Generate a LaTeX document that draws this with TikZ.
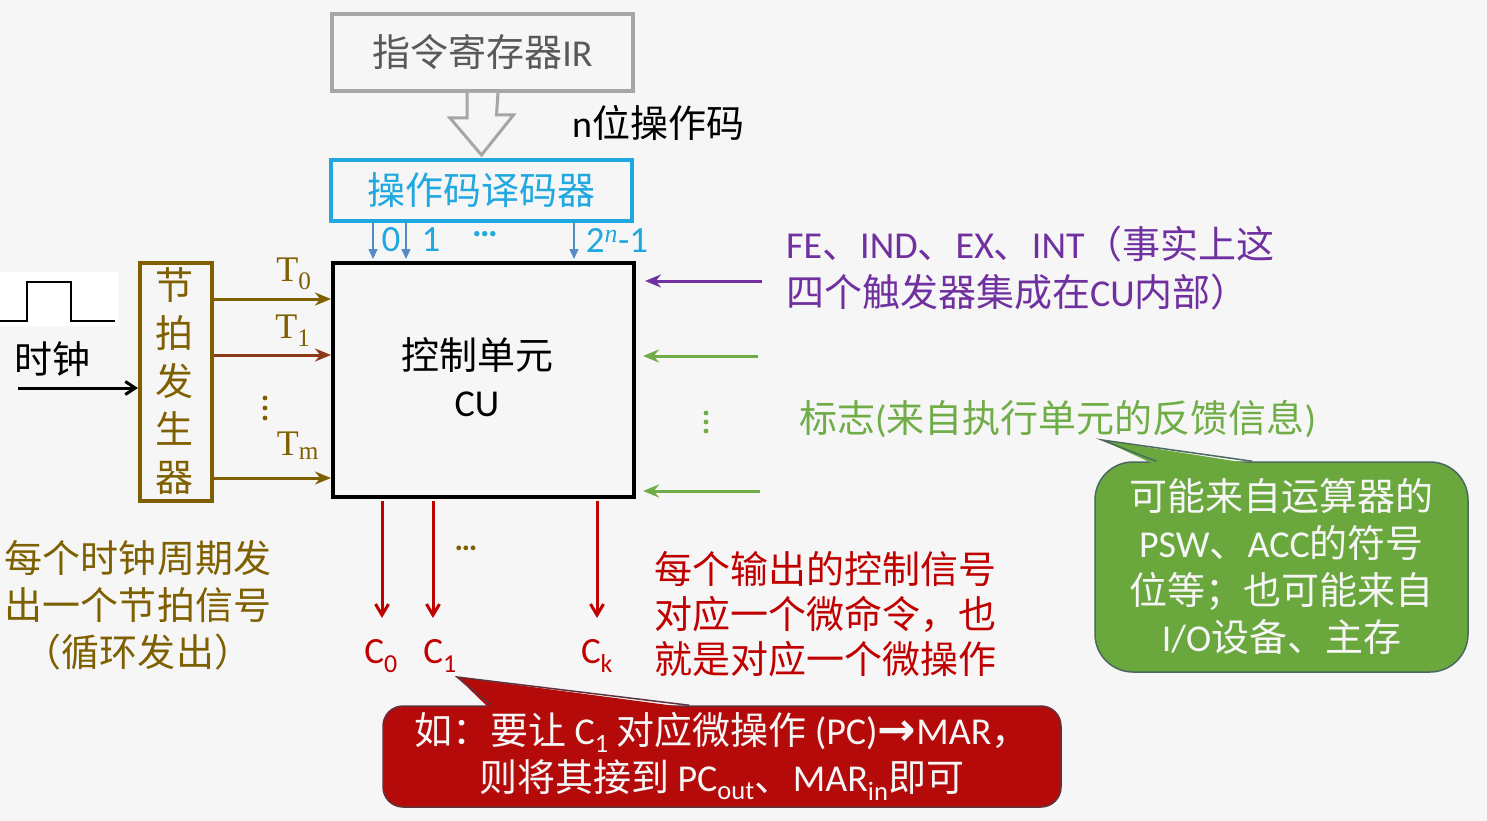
\documentclass[tikz,border=0pt]{standalone}
\usepackage{fontspec}
\setmainfont{Carlito}
\newfontfamily\cjk{Noto Sans CJK SC}
\newfontfamily\serf{Liberation Serif}
\newfontfamily\symb{DejaVu Sans}
\usetikzlibrary{arrows.meta,calc}
\newcommand\la[1]{{\normalfont #1}}

\definecolor{irgray}{RGB}{166,166,166}
\definecolor{irtext}{RGB}{89,89,89}
\definecolor{cyanc}{RGB}{32,168,224}
\definecolor{steel}{RGB}{85,140,200}
\definecolor{olive}{RGB}{127,96,0}
\definecolor{rust}{RGB}{143,57,27}
\definecolor{purp}{RGB}{112,48,160}
\definecolor{leaf}{RGB}{112,173,71}
\definecolor{leaffill}{RGB}{106,168,62}
\definecolor{leafedge}{RGB}{75,105,95}
\definecolor{crimson}{RGB}{192,0,0}
\definecolor{crimfill}{RGB}{180,10,10}
\definecolor{crimedge}{RGB}{95,50,60}
\definecolor{paper}{RGB}{246,246,246}
\definecolor{notetext}{RGB}{246,246,246}

\tikzset{
  txt/.style={inner sep=0pt, align=center, font=\cjk\fontsize{38}{47}\selectfont},
  unitbox/.style={draw, line width=4pt, minimum width=301pt, inner sep=0pt},
  sig/.style={-{Stealth[length=16pt,width=13pt]}, line width=3pt},
  tick/.style={-{Triangle[length=10pt,width=9pt]}, line width=1.6pt, steel},
  ctl/.style={-{Straight Barb[length=11pt,width=13pt]}, line width=3pt, crimson},
  tlabel/.style={inner sep=0pt, olive, font=\serf\fontsize{36}{40}\selectfont},
  note/.style={txt, rounded corners=38pt, line width=1.5pt, text=notetext},
}

\begin{document}
\begin{tikzpicture}[x=1pt,y=-1pt]
% page and the white strip behind the clock waveform
\fill[paper] (0,0) rectangle (1487,821);
\useasboundingbox (0,0) rectangle (1487,821);
\fill[white] (0,272) rectangle (118,326);

% instruction register, opcode decoder and control unit
\node[unitbox, txt, draw=irgray, text=irtext, minimum height=77pt] (ir) at (482.5,52.5) {指令寄存器\la{IR}};
\node[unitbox, txt, draw=cyanc, text=cyanc, minimum height=61pt] (dec) at (481.5,190.5) {操作码译码器};
\node[unitbox, draw=black, minimum height=234pt] (cu) at (483.5,380) {};
\node[txt] (cuname) at (477,377) {控制单元\\\la{CU}};

% hollow arrow carrying the opcode
\draw[irgray, line width=3pt, line join=miter, fill=paper]
  ([xshift=-15.5pt]ir.south) -- ++(0,25) -- ++(-17,0) -- ([yshift=3pt]dec.north)
  -- ++(32,-40) -- ++(-17,0) -- ([xshift=15.5pt]ir.south);
\node[txt, anchor=west] (opcode) at (572,123) {\la{n}位操作码};

% decoder outputs
\node[txt, cyanc, font=\normalfont\fontsize{37}{40}\selectfont] (d0) at (391,240) {0};
\node[txt, cyanc, font=\normalfont\fontsize{37}{40}\selectfont] (d1) at (431,240) {1};
\node[txt, cyanc, font=\normalfont\bfseries\fontsize{36}{40}\selectfont] (ddots) at (485,234) {…};
\node[txt, cyanc, font=\normalfont\fontsize{37}{40}\selectfont] (dn) at (617,240) {2\textsuperscript{\serf\itshape n}-1};
\draw[tick] ($(dec.south west)+(44,0)$) -- ($(cu.north west)+(42,-2)$);
\draw[tick] ($(dec.south west)+(77,0)$) -- ($(cu.north west)+(75,-2)$);
\draw[tick] ($(dec.south west)+(245,0)$) -- ($(cu.north west)+(243,-2)$);

% clock and timing generator
\draw[black, line width=2pt] (0,321) -- (27,321) -- (27,282) -- (71,282) -- (71,321) -- (115,321);
\node[txt] (clk) at (52,359) {时钟};
\node[draw=olive, line width=4pt, minimum width=72pt, minimum height=238pt, inner sep=0pt] (gen) at (176,382) {};
\node[txt, olive, font=\cjk\fontsize{38}{48}\selectfont] (gentext) at (174,381) {节\\拍\\发\\生\\器};
\coordinate (clkin) at (18,388);
\draw[line width=3pt, -{Straight Barb[length=10pt,width=13pt]}, black] (clkin) -- (gen.west |- clkin);

\draw[sig, olive] (gen.east |- 0,299) -- (cu.west |- 0,299);
\draw[sig, rust] (gen.east |- 0,355) -- (cu.west |- 0,355);
\draw[sig, olive] (gen.east |- 0,478) -- (cu.west |- 0,478);
\node[tlabel] (t0) at (294,274) {T\textsubscript{0}};
\node[tlabel] (t1) at (293,331) {T\textsubscript{1}};
\node[tlabel] (tm) at (298,446) {T\textsubscript{m}};
\foreach \yy in {398,408,418} \fill[olive] (265,\yy) circle (2.4pt);

\node[txt, olive] (cycle) at (138,605) {每个时钟周期发\\出一个节拍信号\\（循环发出）};

% flip-flop inputs and condition flags
\coordinate (fein) at (762,281);
\coordinate (flag1) at (758,356);
\coordinate (flag2) at (760,491);
\draw[sig, purp, shorten >=9pt] (fein) -- (cu.east |- fein);
\draw[sig, leaf, shorten >=7pt] (flag1) -- (cu.east |- flag1);
\draw[sig, leaf, shorten >=7pt] (flag2) -- (cu.east |- flag2);
\foreach \yy in {413,422,431} \fill[leaf] (706,\yy) circle (2.4pt);

\node[txt, purp, anchor=west, align=left, font=\cjk\fontsize{38}{48}\selectfont] (ffnote) at (786,268)
  {\la{FE}、\la{IND}、\la{EX}、\la{INT}（事实上这\\四个触发器集成在\la{CU}内部）};
\node[txt, leaf, anchor=west] (flags) at (799,419) {标志\la{(}来自执行单元的反馈信息\la{)}};

% note on the flag sources
\node[note, fill=leaffill, draw=leafedge, minimum width=373pt, minimum height=210pt] (src) at (1281.5,567)
  {可能来自运算器的\\\la{PSW}、\la{ACC}的符号\\位等；也可能来自\\\la{I/O}设备、主存};
\coordinate (srctip) at (1102,440);
\fill[leaffill] ($(src.north west)+(60,3)$) -- (srctip) -- ($(src.north west)+(160,3)$) -- cycle;
\draw[leafedge, line width=1.5pt, line join=miter] ($(src.north west)+(62,0)$) -- (srctip) -- ($(src.north west)+(158,0)$);

% control signal outputs
\node[txt, crimson, font=\normalfont\fontsize{37}{40}\selectfont] (c0) at (381,656) {C\textsubscript{0}};
\node[txt, crimson, font=\normalfont\fontsize{37}{40}\selectfont] (c1) at (440,656) {C\textsubscript{1}};
\node[txt, crimson, font=\normalfont\fontsize{37}{40}\selectfont] (ck) at (597,656) {C\textsubscript{k}};
\draw[ctl] ([yshift=-2pt]cu.south -| 382,0) -- (382,618);
\draw[ctl] ([yshift=-2pt]cu.south -| 433,0) -- (433,618);
\draw[ctl] ([yshift=-2pt]cu.south -| 597,0) -- (597,618);
\node[txt, olive, font=\normalfont\bfseries\fontsize{32}{40}\selectfont] (cdots) at (466,548) {…};

\node[txt, crimson, anchor=west, align=left, font=\cjk\fontsize{38}{45}\selectfont] (cmdnote) at (654,614)
  {每个输出的控制信号\\对应一个微命令，也\\就是对应一个微操作};

% example note on C1
\node[note, rounded corners=20pt, fill=crimfill, draw=crimedge, minimum width=678pt, minimum height=101pt] (ex) at (722,756.5)
  {如：要让\hspace{8pt}\la{C\textsubscript{1}}\hspace{8pt}对应微操作\hspace{8pt}\la{(PC)}{\symb\bfseries\fontsize{46}{40}\selectfont\raisebox{-1pt}{→}}\la{MAR}，\\则将其接到\hspace{8pt}\la{PC\textsubscript{out}}、\la{MAR\textsubscript{in}}即可};
\coordinate (extip) at (457,677);
\fill[crimfill] ($(ex.north west)+(107,3)$) -- (extip) -- ($(ex.north west)+(310,3)$) -- cycle;
\draw[crimedge, line width=1.5pt, line join=miter] ($(ex.north west)+(109,0)$) -- (extip) -- ($(ex.north west)+(307,0)$);
\end{tikzpicture}
\end{document}
